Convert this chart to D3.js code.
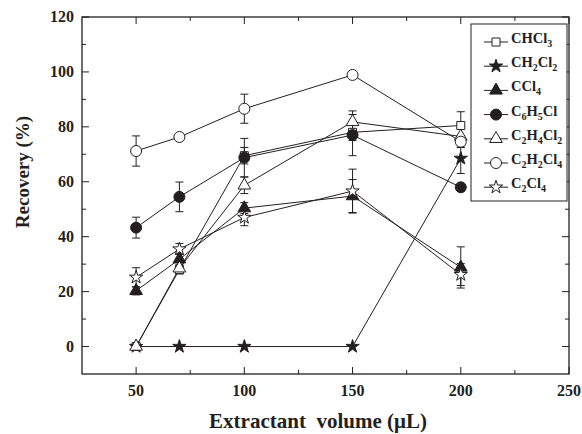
<!DOCTYPE html>
<html>
<head>
<meta charset="utf-8">
<script src="https://cdn.jsdelivr.net/npm/d3@7"></script>
<style>
  body { margin: 0; background: #fff; }
  text { font-family: "Liberation Serif", "Times New Roman", serif; font-weight: bold; fill: #231f20; }
</style>
</head>
<body>
<div id="chart"></div>
<script>
// extractant volume (uL)
const volumes = [50, 70, 100, 150, 200];
const xTicks = [50, 100, 150, 200, 250];
const yTicks = [0, 20, 40, 60, 80, 100, 120];

// series names, "_n" marks a subscript
const names = ["CHCl_3", "CH_2Cl_2", "CCl_4", "C_6H_5Cl", "C_2H_4Cl_2", "C_2H_2Cl_4", "C_2Cl_4"];

// recovery (%) and error (+/-) per series
const chcl3 = [0, 28, 69.5, 78, 80.5];
const chcl3Err = [0, 1.5, 3, 3, 5];
const ch2cl2 = [0, 0, 0, 0, 68.5];
const ch2cl2Err = [0, 0, 0, 0, 5.5];
const ccl4 = [20.3, 31.8, 50.4, 54.8, 28.8];
const ccl4Err = [1.5, 2, 2, 6, 7.5];
const c6h5cl = [43.3, 54.5, 68.8, 77, 58];
const c6h5clErr = [3.8, 5.4, 7, 7.5, 0.5];
const c2h4cl2 = [0, 28.5, 58.7, 81.8, 76.5];
const c2h4cl2Err = [0, 2, 3, 4, 4];
const c2h2cl4 = [71.2, 76.3, 86.6, 98.9, 74.6];
const c2h2cl4Err = [5.5, 1, 5.3, 1, 2];
const c2cl4 = [25.2, 35.5, 47, 56.6, 26.2];
const c2cl4Err = [3.5, 2, 3, 8, 4];

const seriesVals = [chcl3, ch2cl2, ccl4, c6h5cl, c2h4cl2, c2h2cl4, c2cl4];
const seriesErrs = [chcl3Err, ch2cl2Err, ccl4Err, c6h5clErr, c2h4cl2Err, c2h2cl4Err, c2cl4Err];

// marker style per series
const markers = [
  {shape: d3.symbolSquare, size: 64, fill: "#fff"},
  {shape: d3.symbolStar, size: 55, fill: "#231f20"},
  {shape: d3.symbolTriangle, size: 70, fill: "#231f20"},
  {shape: d3.symbolCircle, size: 95, fill: "#231f20"},
  {shape: d3.symbolTriangle, size: 70, fill: "#fff"},
  {shape: d3.symbolCircle, size: 95, fill: "#fff"},
  {shape: d3.symbolStar, size: 55, fill: "#fff"}
];

const W = 582, H = 434;
const margin = {top: 17, right: 13, bottom: 60, left: 82};

const svg = d3.select("#chart").append("svg")
  .attr("width", W).attr("height", H);

const x = d3.scaleLinear().domain([25, 250]).range([margin.left, W - margin.right]);
const y = d3.scaleLinear().domain([-10, 120]).range([H - margin.bottom, margin.top]);

const ink = "#231f20";

// frame
svg.append("rect")
  .attr("x", x(25)).attr("y", y(120))
  .attr("width", x(250) - x(25)).attr("height", y(-10) - y(120))
  .attr("fill", "none").attr("stroke", ink).attr("stroke-width", 1.3);

// ticks, all pointing inward on every side
const xMinor = [75, 125, 175, 225];
const yMinor = [10, 30, 50, 70, 90, 110];
const tickG = svg.append("g").attr("stroke", ink).attr("stroke-width", 1);
function xTick(v, len) {
  tickG.append("line").attr("x1", x(v)).attr("x2", x(v)).attr("y1", y(-10)).attr("y2", y(-10) - len);
  tickG.append("line").attr("x1", x(v)).attr("x2", x(v)).attr("y1", y(120)).attr("y2", y(120) + len);
}
function yTick(v, len) {
  tickG.append("line").attr("y1", y(v)).attr("y2", y(v)).attr("x1", x(25)).attr("x2", x(25) + len);
  tickG.append("line").attr("y1", y(v)).attr("y2", y(v)).attr("x1", x(250)).attr("x2", x(250) - len);
}
xTicks.forEach(v => xTick(v, 7));
xMinor.forEach(v => xTick(v, 4));
yTicks.forEach(v => yTick(v, 7));
yMinor.forEach(v => yTick(v, 4));

// tick labels
svg.selectAll(".xl").data(xTicks).enter().append("text")
  .attr("x", d => x(d)).attr("y", y(-10) + 22)
  .attr("text-anchor", "middle").attr("font-size", 16)
  .text(d => d);
svg.selectAll(".yl").data(yTicks).enter().append("text")
  .attr("x", x(25) - 8).attr("y", d => y(d) + 5)
  .attr("text-anchor", "end").attr("font-size", 16)
  .text(d => d);

// axis titles
svg.append("text")
  .attr("x", 318).attr("y", 428)
  .attr("text-anchor", "middle").attr("font-size", 21)
  .attr("xml:space", "preserve")
  .text("Extractant  volume (\u03bcL)");
svg.append("text")
  .attr("transform", "translate(29,172) rotate(-90)")
  .attr("text-anchor", "middle").attr("font-size", 19)
  .text("Recovery (%)");

const line = d3.line().x((d, i) => x(volumes[i])).y(d => y(d));

// lines
seriesVals.forEach(vals => {
  svg.append("path").datum(vals)
    .attr("d", line)
    .attr("fill", "none").attr("stroke", ink).attr("stroke-width", 1);
});

// error bars
seriesVals.forEach((vals, s) => {
  const errs = seriesErrs[s];
  const g = svg.append("g").attr("stroke", ink).attr("stroke-width", 1);
  vals.forEach((v, i) => {
    const e = errs[i];
    if (e <= 0) return;
    const cx = x(volumes[i]);
    g.append("line").attr("x1", cx).attr("x2", cx).attr("y1", y(v - e)).attr("y2", y(v + e));
    [v - e, v + e].forEach(t => {
      g.append("line").attr("x1", cx - 4).attr("x2", cx + 4).attr("y1", y(t)).attr("y2", y(t));
    });
  });
});

// markers
seriesVals.forEach((vals, s) => {
  const m = markers[s];
  svg.append("g").selectAll("path").data(vals).enter().append("path")
    .attr("transform", (d, i) => `translate(${x(volumes[i])},${y(d)})`)
    .attr("d", d3.symbol().type(m.shape).size(m.size))
    .attr("fill", m.fill).attr("stroke", ink).attr("stroke-width", 1);
});

// legend
const lg = svg.append("g");
lg.append("rect")
  .attr("x", 471).attr("y", 24).attr("width", 96).attr("height", 177)
  .attr("fill", "#fff").attr("stroke", ink).attr("stroke-width", 1);

function addLabel(sel, name) {
  const parts = name.split(/(_\d)/).filter(p => p.length);
  parts.forEach(p => {
    if (p[0] === "_") {
      sel.append("tspan").attr("font-size", 10).attr("dy", 4).text(p.slice(1));
    } else {
      sel.append("tspan").attr("dy", sel.selectAll("tspan").size() ? -4 : 0).text(p);
    }
  });
}

names.forEach((name, s) => {
  const cy = 42 + s * 24.2;
  const m = markers[s];
  lg.append("line").attr("x1", 484).attr("x2", 508).attr("y1", cy).attr("y2", cy)
    .attr("stroke", ink).attr("stroke-width", 1);
  lg.append("path")
    .attr("transform", `translate(496,${cy})`)
    .attr("d", d3.symbol().type(m.shape).size(m.size))
    .attr("fill", m.fill).attr("stroke", ink).attr("stroke-width", 1);
  const t = lg.append("text").attr("x", 511).attr("y", cy + 5).attr("font-size", 14.5);
  addLabel(t, name);
});
</script>
</body>
</html>
